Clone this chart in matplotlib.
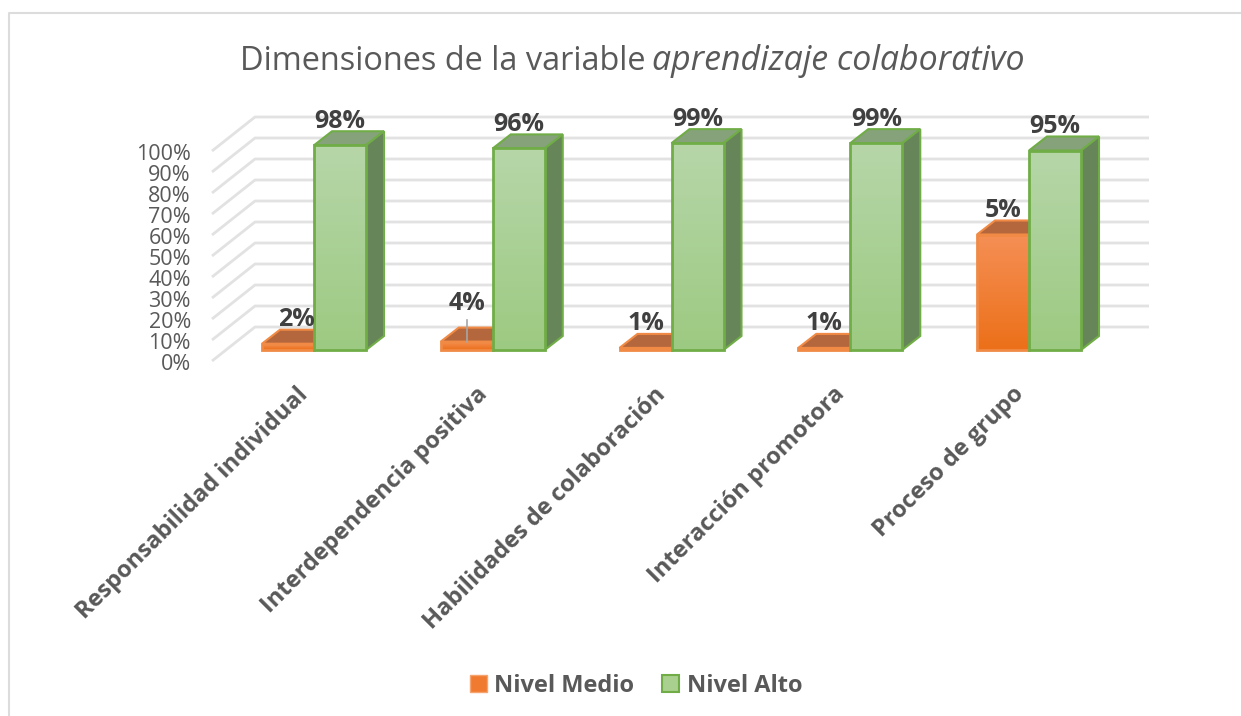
#!python3
# -*- coding: utf-8 -*-
import numpy as np
import matplotlib
matplotlib.use('Agg')
import matplotlib.pyplot as plt
from matplotlib.patches import Polygon, Patch, Rectangle
from matplotlib.colors import LinearSegmentedColormap

plt.rcParams['font.family'] = ['Open Sans', 'DejaVu Sans']

categorias = ['Responsabilidad individual', 'Interdependencia positiva',
              'Habilidades de colaboración', 'Interacción promotora', 'Proceso de grupo']
nivel_medio = [3, 4, 1, 1, 55]   # altura dibujada
nivel_alto = [97.5, 96, 98.5, 98.5, 95]
etiquetas_medio = ['2%', '4%', '1%', '1%', '5%']
etiquetas_alto = ['98%', '96%', '99%', '99%', '95%']
ticks = list(range(0, 101, 10))

W, H = 1241, 716

fig = plt.figure(figsize=(W / 100, H / 100), dpi=100)
ax = fig.add_axes([0, 0, 1, 1])
# eje: x = categoria (314 px, paso 178.75 px), y = % (350 px, 2.1 px por punto)
PX = 178.75
PY = 2.1
ax.set_xlim(-314 / PX, (W - 314) / PX)
ax.set_ylim((350 - H) / PY, 350 / PY)
ax.axis('off')

ancho = 52 / PX
dx, dy = 18 / PX, 14 / PY          # profundidad de la barra
wx0, wy0 = -102 / PX, -11 / PY     # esquina frontal de la pared
bx, by = -59 / PX, 23 / PY         # plano del fondo
bx1 = 835 / PX

# marco: solo arriba y a la izquierda
fx0, fx1 = -305 / PX, (W - 314) / PX
ax.plot([fx0, fx0, fx1], [(350 - H) / PY, 337 / PY, 337 / PY], color='#dcdcdc', lw=1.5)

# rejilla
for t in ticks:
    ax.plot([wx0, bx, bx1], [t + wy0, t + by, t + by], color='#e2e2e2', lw=2, zorder=1,
            solid_capstyle='butt')
    ax.text(-123 / PX, t + wy0 - 0.7, '%d%%' % t, ha='right', va='center_baseline', fontsize=15.5, color='#595959')

verde = LinearSegmentedColormap.from_list('verde', ['#9dca82', '#b6d6a8'])
naranja = LinearSegmentedColormap.from_list('naranja', ['#ec7019', '#f58f55'])
grad = np.linspace(0, 1, 64).reshape(-1, 1)


def barra(x0, v, cmap, lado, tapa, borde, z):
    x1 = x0 + ancho
    ax.add_patch(Polygon([(x0, v), (x1, v), (x1 + dx, v + dy), (x0 + dx, v + dy)], fc=tapa, ec=borde, lw=1.5, zorder=z))
    ax.add_patch(Polygon([(x1, 0), (x1 + dx, dy), (x1 + dx, v + dy), (x1, v)], fc=lado, ec=borde, lw=1.5, zorder=z))
    im = ax.imshow(grad, origin='lower', extent=(x0, x1, 0, v), cmap=cmap, aspect='auto', zorder=z + 0.1)
    r = Rectangle((x0, 0), ancho, v, fc='none', ec=borde, lw=2, zorder=z + 0.2)
    ax.add_patch(r)
    im.set_clip_path(r)


for i in range(len(categorias)):
    z = 3 + i
    barra(i - ancho, nivel_medio[i], naranja, '#b4673c', '#b4673c', '#f08a45', z)
    barra(i, nivel_alto[i], verde, '#668559', '#86a27a', '#70ad47', z + 0.5)
    ax.text(i + ancho / 2, nivel_alto[i] + 11.5, etiquetas_alto[i], ha='center', va='center',
            fontsize=18, fontweight='bold', color='#404040', zorder=20)
    sube = 18 if i == 1 else 11.5
    corre = 8 / PX if i == 0 else 0
    ax.text(i - ancho / 2 + corre, nivel_medio[i] + sube, etiquetas_medio[i], ha='center', va='center',
            fontsize=18, fontweight='bold', color='#404040', zorder=20)
    ax.text(i - 9 / PX, -41 / PY, categorias[i], rotation=45, rotation_mode='anchor', ha='right', va='center',
            fontsize=17, fontweight='bold', color='#595959')

# linea guia de la etiqueta 4%
ax.plot([1 - ancho / 2] * 2, [nivel_medio[1], nivel_medio[1] + 10.5], color='#a6a6a6', lw=1.2, zorder=15)

# titulo
ax.text(-74 / PX, 280 / PY, 'Dimensiones de la variable', fontsize=23.4, color='#595959', va='baseline')
ax.text(338 / PX, 280 / PY, 'aprendizaje colaborativo', fontsize=24.4, style='italic', color='#595959', va='baseline')

ax.legend(handles=[Patch(fc='#f07b30', ec='#f5a36f', label='Nivel Medio'),
                   Patch(fc='#a9d08e', ec='#70ad47', lw=1.5, label='Nivel Alto')],
          loc='center', bbox_to_anchor=(636 / W, 1 - 686 / H), ncol=2, frameon=False,
          prop={'size': 17, 'weight': 'bold'}, labelcolor='#595959', handlelength=0.72,
          handleheight=0.72, handletextpad=0.3, columnspacing=1.2)

fig.savefig('out.png', dpi=100)
